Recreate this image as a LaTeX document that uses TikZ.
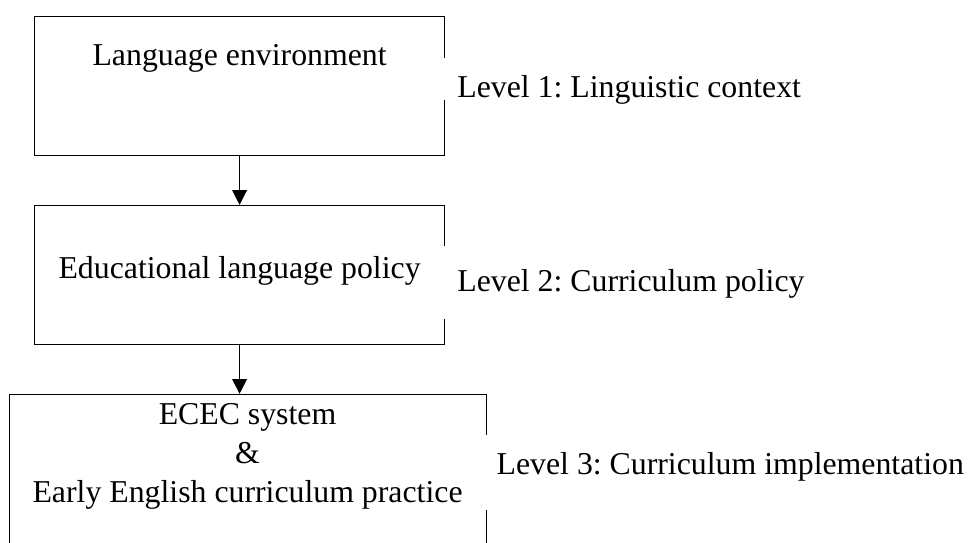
\documentclass[tikz,border=0pt]{standalone}
\usepackage{fontspec}
\setmainfont{Liberation Serif}
\usetikzlibrary{arrows.meta,positioning}
\frenchspacing

\begin{document}
\begin{tikzpicture}[>={Triangle[length=0.26cm,width=0.26cm]},
 font=\fontsize{15.9pt}{19.5pt}\selectfont,
 box/.style={draw,line width=0.5pt,align=center,anchor=north,inner xsep=0pt,inner ysep=0pt},
 level/.style={fill=white,anchor=base west,inner xsep=0.28cm,inner ysep=0pt}]
\clip (0,0) rectangle (17.01,-9.54);
% the three nested levels
\node[box,minimum width=7.19cm,text height=0.86cm,text depth=1.58cm] (env) at (4.21,-0.28) {Language environment};
\node[box,minimum width=7.19cm,text height=1.28cm,text depth=1.16cm] (policy) at (4.21,-3.60) {Educational language policy};
\node[box,minimum width=8.38cm,text height=1.90cm,text depth=1.02cm] (practice) at (4.35,-6.92) {ECEC system\\\&\\Early English curriculum practice};
\draw[->,line width=0.5pt] (env) -- (policy);
\draw[->,line width=0.5pt] (policy.south) -- (policy.south |- practice.north);
% level names on the right
\node[level,text height=0.70cm,text depth=0.04cm] (lev1) at (7.75,-1.72) {Level 1: Linguistic context};
\node[level,text height=0.81cm,text depth=0.47cm] (lev2) at (7.75,-5.13) {Level 2: Curriculum policy};
\node[level,text height=0.69cm,text depth=0.63cm] (lev3) at (8.44,-8.33) {Level 3: Curriculum implementation};
\end{tikzpicture}
\end{document}
